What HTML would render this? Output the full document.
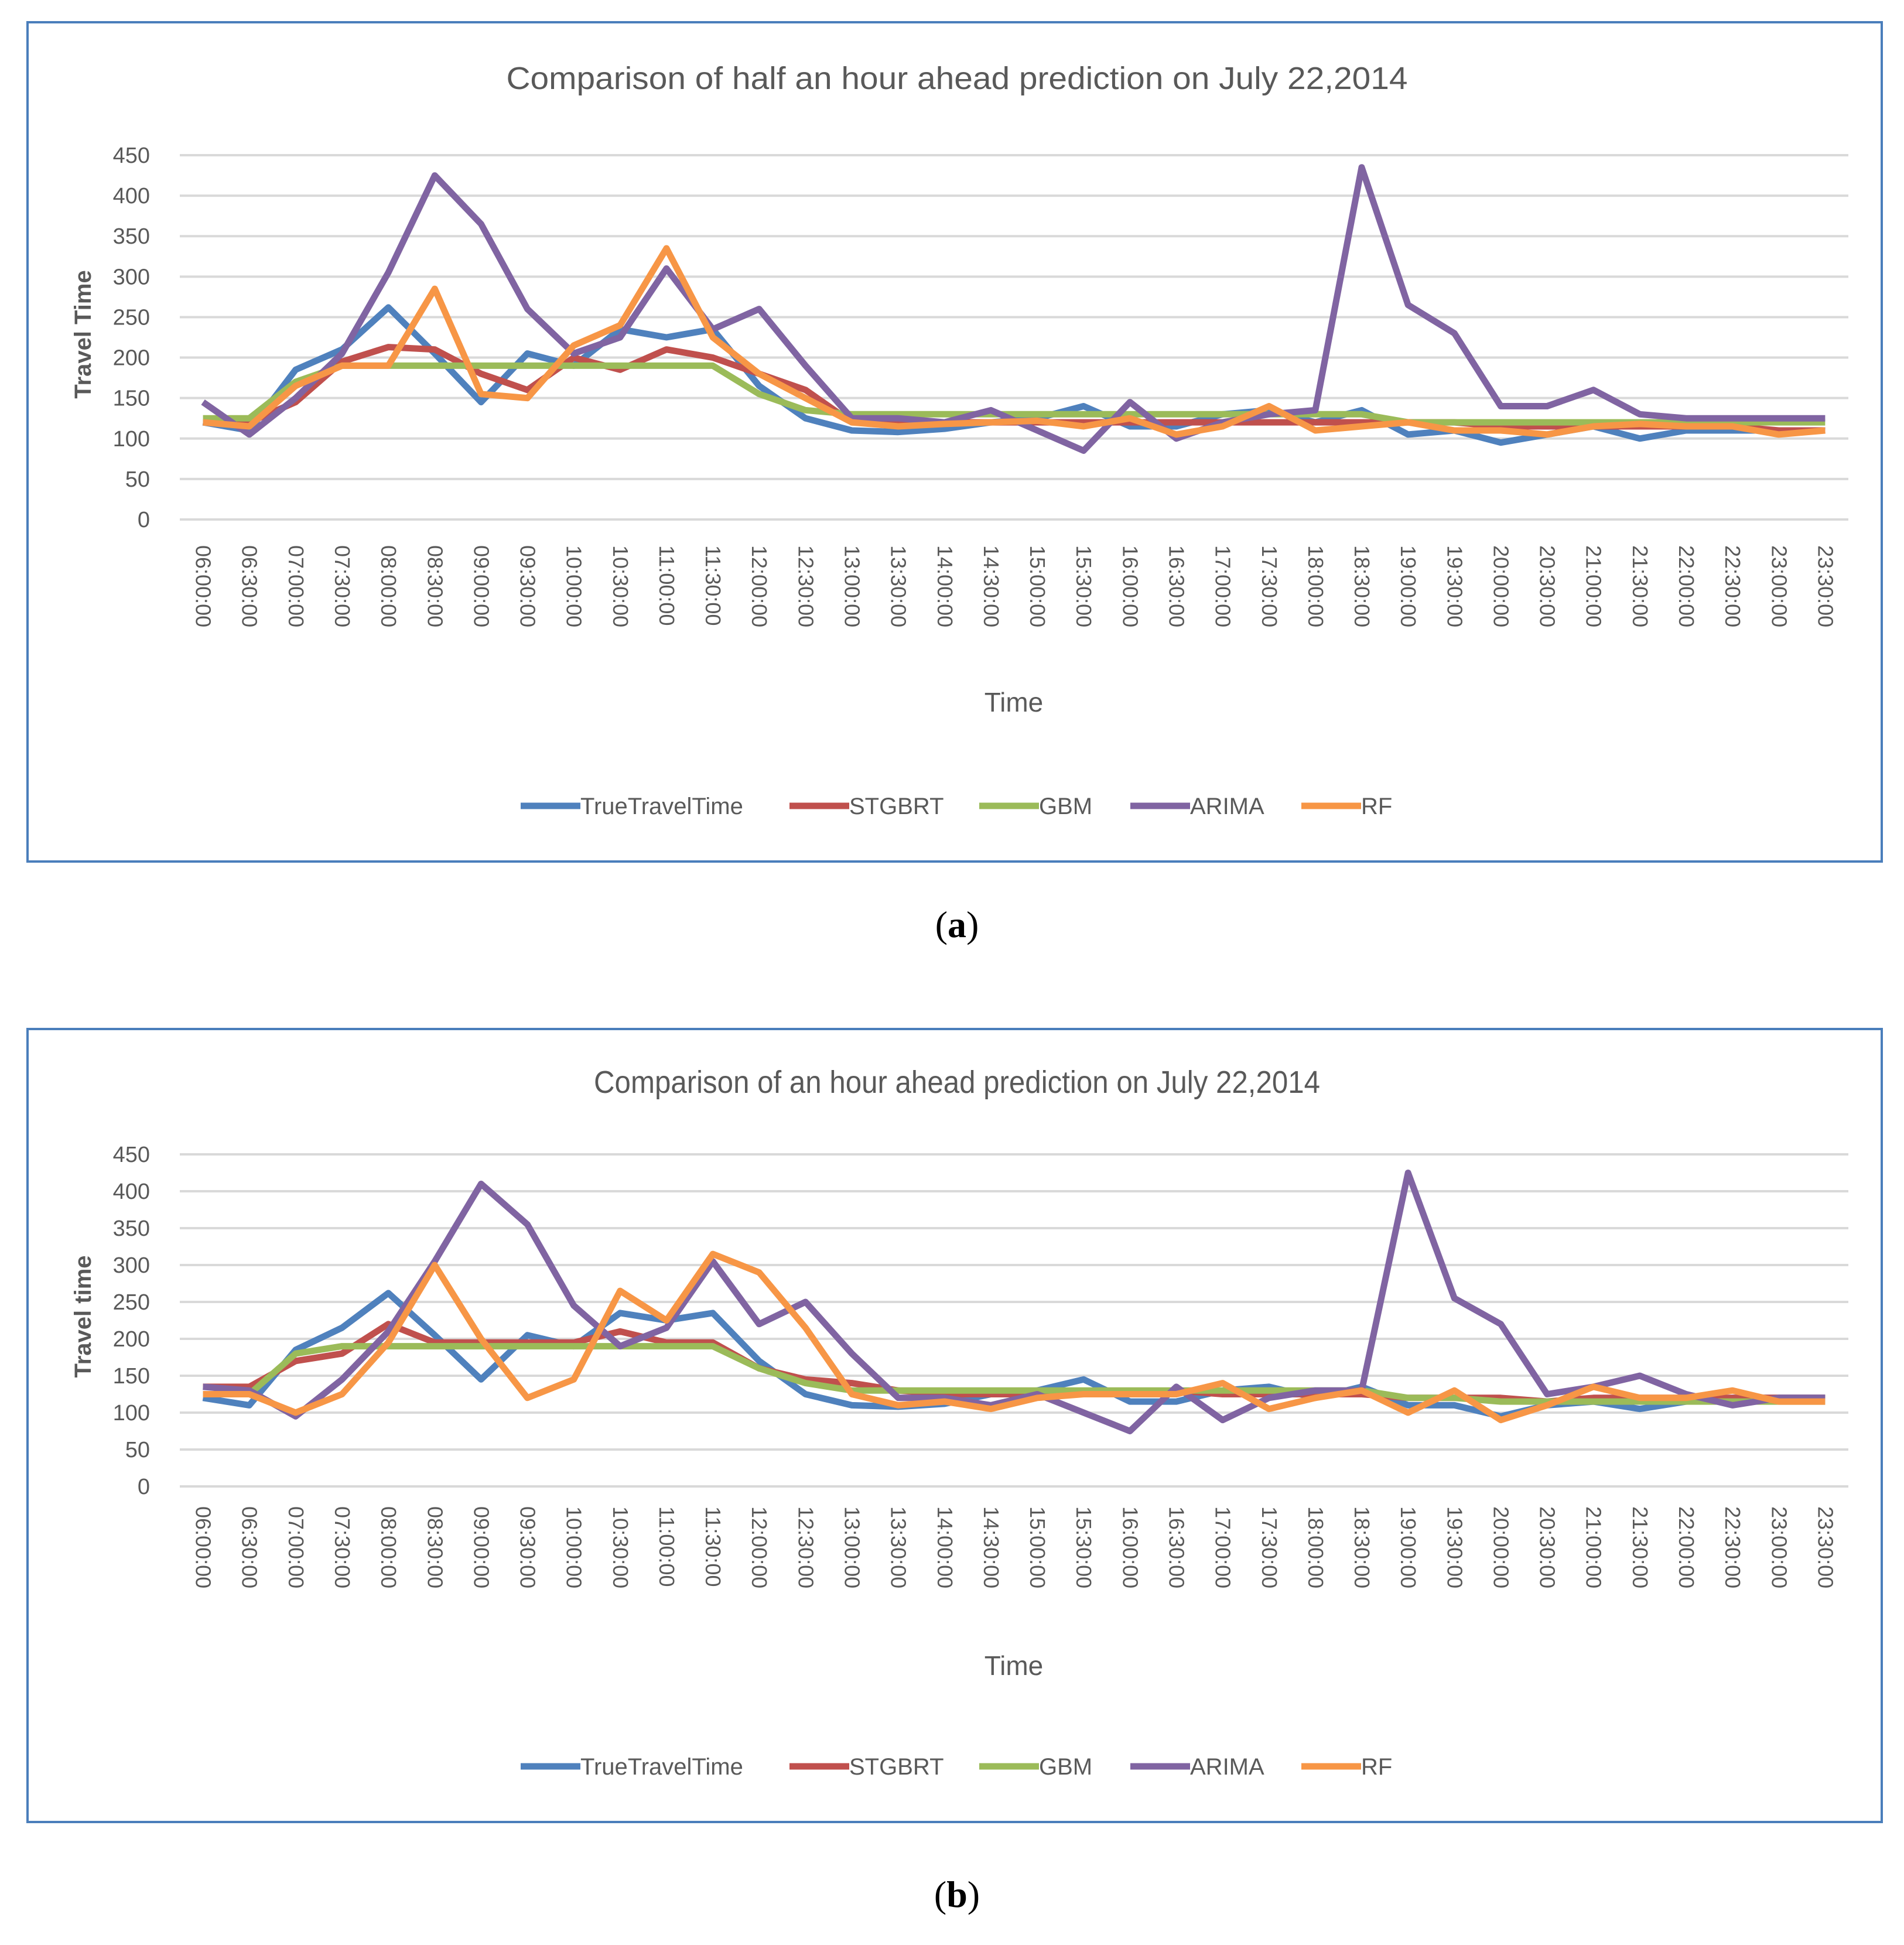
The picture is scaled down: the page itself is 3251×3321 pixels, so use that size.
<!DOCTYPE html>
<html><head><meta charset="utf-8"><style>
html,body{margin:0;padding:0;background:#fff;}
svg{display:block;}
</style></head><body>
<svg id="root" width="3251" height="3321" viewBox="0 0 3251 3321" xmlns="http://www.w3.org/2000/svg" font-family="Liberation Sans, sans-serif">
<rect x="47" y="38" width="3166" height="1433" fill="#fff" stroke="#4a7ebb" stroke-width="4"/>
<rect x="47" y="1757" width="3166" height="1354" fill="#fff" stroke="#4a7ebb" stroke-width="4"/>
<text x="1634" y="1600" font-family="Liberation Serif, serif" font-size="64" text-anchor="middle"><tspan>(</tspan><tspan font-weight="bold">a</tspan><tspan>)</tspan></text>
<text x="1634" y="3256" font-family="Liberation Serif, serif" font-size="64" text-anchor="middle"><tspan>(</tspan><tspan font-weight="bold">b</tspan><tspan>)</tspan></text>
<g id="chartA"></g>
<g id="chartB"></g>
</svg>
<script>
const categories = ["06:00:00","06:30:00","07:00:00","07:30:00","08:00:00","08:30:00","09:00:00","09:30:00","10:00:00","10:30:00","11:00:00","11:30:00","12:00:00","12:30:00","13:00:00","13:30:00","14:00:00","14:30:00","15:00:00","15:30:00","16:00:00","16:30:00","17:00:00","17:30:00","18:00:00","18:30:00","19:00:00","19:30:00","20:00:00","20:30:00","21:00:00","21:30:00","22:00:00","22:30:00","23:00:00","23:30:00"];
const yTicks = [0,50,100,150,200,250,300,350,400,450];
const seriesNames = ["TrueTravelTime","STGBRT","GBM","ARIMA","RF"];
const seriesColors = ["#4f81bd","#c0504d","#9bbb59","#8064a2","#f79646"];

const aTrue  = [120,110,185,210,262,205,145,205,190,235,225,235,165,125,110,108,112,120,125,140,115,115,130,135,120,135,105,110,95,105,115,100,110,110,110,110];
const aSTG   = [120,120,145,195,213,210,180,160,200,185,210,200,180,160,120,120,120,120,120,120,120,120,120,120,120,120,120,120,115,115,115,115,115,115,110,110];
const aGBM   = [125,125,170,190,190,190,190,190,190,190,190,190,155,135,130,130,130,130,130,130,130,130,130,130,130,130,120,120,120,120,120,120,120,120,120,120];
const aARIMA = [145,105,150,205,305,425,365,260,205,225,310,235,260,190,125,125,120,135,110,85,145,100,120,130,135,435,265,230,140,140,160,130,125,125,125,125];
const aRF    = [120,115,165,190,190,285,155,150,215,240,335,225,180,150,120,115,118,120,122,115,125,105,115,140,110,115,120,110,110,105,115,118,115,115,105,110];

const bTrue  = [120,110,185,215,262,205,145,205,190,235,225,235,170,125,110,108,112,125,130,145,115,115,130,135,120,135,110,110,95,110,115,105,115,120,120,120];
const bSTG   = [135,135,170,180,220,195,195,195,195,210,195,195,160,145,140,130,125,125,125,125,125,130,125,125,125,125,120,120,120,115,120,120,120,120,120,120];
const bGBM   = [125,125,180,190,190,190,190,190,190,190,190,190,160,140,130,130,130,130,130,130,130,130,130,130,130,130,120,120,115,115,115,115,115,115,115,115];
const bARIMA = [135,130,95,145,210,305,410,355,245,190,215,305,220,250,180,120,120,110,125,100,75,135,90,120,130,130,425,255,220,125,135,150,125,110,120,120];
const bRF    = [125,125,100,125,195,300,200,120,145,265,225,315,290,215,125,110,115,105,120,125,125,125,140,105,120,130,100,130,90,110,135,120,120,130,115,115];

const NS = "http://www.w3.org/2000/svg";
function mk(parent, tag, attrs){
  const e = document.createElementNS(NS, tag);
  for (const k in attrs) e.setAttribute(k, attrs[k]);
  parent.appendChild(e);
  return e;
}

function drawChart(g, cfg, series){
  const xL = 307, xR = 3156;
  const band = (xR - xL) / categories.length;
  const xs = i => xL + band * (i + 0.5);
  const ys = v => cfg.y0 - (v / 450) * (cfg.y0 - cfg.y450);

  const title = mk(g, "text", {x: 1634, y: cfg.titleY, "font-size": 54, fill: "#595959", "text-anchor": "middle", textLength: cfg.titleLen, lengthAdjust: "spacingAndGlyphs"});
  
  
  title.textContent = cfg.title;

  yTicks.forEach(t => {
    const gl = mk(g, "line", {x1: xL, x2: xR, y1: ys(t), y2: ys(t), stroke: "#d9d9d9", "stroke-width": 4});
    
    
    const tl = mk(g, "text", {x: 256, y: ys(t) + 13, "font-size": 38, fill: "#595959", "text-anchor": "end"});
    
    
    tl.textContent = t;
  });

  categories.forEach((c, i) => {
    const x = xs(i);
    const tl = mk(g, "text", {x: 0, y: 0, "font-size": 36, fill: "#595959", transform: `translate(${x - 12},${cfg.labelY}) rotate(90)`});
    
    
    tl.textContent = c;
  });

  const yt = mk(g, "text", {x: 0, y: 0, "font-size": 40, "font-weight": "bold", fill: "#595959", "text-anchor": "middle", transform: `translate(155,${cfg.yTitleY}) rotate(-90)`});
  
  
  yt.textContent = cfg.yTitle;

  const xt = mk(g, "text", {x: 1731, y: cfg.xTitleY, "font-size": 46, fill: "#595959", "text-anchor": "middle"});
  
  
  xt.textContent = "Time";

  series.forEach((vals, s) => {
    const pts = vals.map((v, i) => `${xs(i).toFixed(1)},${ys(v).toFixed(1)}`).join(" ");
    const pl = mk(g, "polyline", {points: pts, fill: "none", stroke: seriesColors[s], "stroke-width": 11, "stroke-linejoin": "round"});
    
    
  });

  const legX = [889, 1348, 1672, 1930, 2222];
  seriesNames.forEach((n, s) => {
    const lg = mk(g, "g", {});
    
    
    mk(lg, "line", {x1: legX[s], x2: legX[s] + 102, y1: cfg.legendY, y2: cfg.legendY, stroke: seriesColors[s], "stroke-width": 11});
    const t = mk(lg, "text", {x: legX[s] + 102, y: cfg.legendY + 14, "font-size": 40, fill: "#595959"});
    t.textContent = n;
  });
}

drawChart(document.getElementById("chartA"), {
  y0: 887, y450: 265, titleY: 152, titleLen: 1539, labelY: 931, yTitle: "Travel Time", yTitleY: 571, xTitleY: 1215, legendY: 1376,
  title: "Comparison of half an hour ahead prediction on July 22,2014"
}, [aTrue, aSTG, aGBM, aARIMA, aRF]);

drawChart(document.getElementById("chartB"), {
  y0: 2538, y450: 1971, titleY: 1866, titleLen: 1240, labelY: 2572, yTitle: "Travel time", yTitleY: 2248, xTitleY: 2860, legendY: 3016,
  title: "Comparison of an hour ahead prediction on July 22,2014"
}, [bTrue, bSTG, bGBM, bARIMA, bRF]);
</script>
</body></html>
